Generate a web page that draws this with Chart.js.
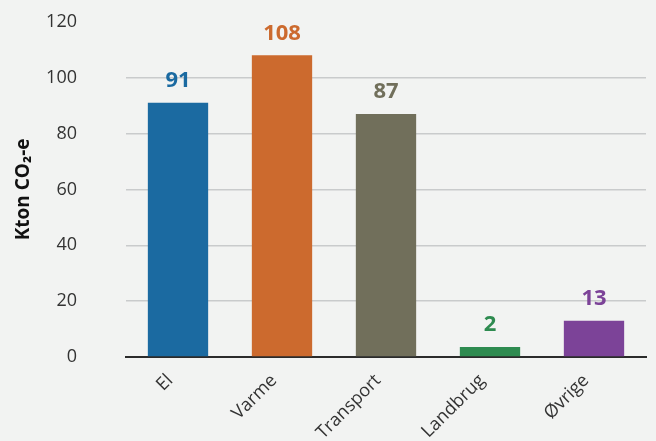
<!DOCTYPE html>
<html>
<head>
<meta charset="utf-8">
<script src="https://cdn.jsdelivr.net/npm/chart.js@4"></script>
<style>
  html, body { margin: 0; padding: 0; background: #f2f3f2; }
  #wrap { width: 656px; height: 441px; }
</style>
</head>
<body>
<div id="wrap"><canvas id="chart"></canvas></div>
<script>
const categories = ['El', 'Varme', 'Transport', 'Landbrug', 'Øvrige'];
const emissions = [91, 108, 87, 2, 13];
const barColors = ['#1b6aa1', '#cc6a2e', '#716f5b', '#2e8b50', '#7c4398'];
const yTicks = [0, 20, 40, 60, 80, 100, 120];

// value labels above each bar, same colour as the bar
const valueLabels = {
  id: 'valueLabels',
  afterDatasetsDraw(chart) {
    const ctx = chart.ctx;
    const meta = chart.getDatasetMeta(0);
    ctx.save();
    ctx.font = 'bold 22px "Open Sans", sans-serif';
    ctx.textAlign = 'center';
    ctx.textBaseline = 'bottom';
    meta.data.forEach((bar, i) => {
      ctx.fillStyle = barColors[i];
      ctx.fillText(String(emissions[i]), bar.x, bar.y - 11);
    });
    ctx.restore();
  },
};

const ctx = document.getElementById('chart').getContext('2d');
new Chart(ctx, {
  type: 'bar',
  data: {
    labels: categories,
    datasets: [{
      data: emissions,
      backgroundColor: barColors,
      barPercentage: 0.58,
      categoryPercentage: 1,
      minBarLength: 10,
    }],
  },
  options: {
    responsive: true,
    maintainAspectRatio: false,
    animation: false,
    layout: { padding: { top: 0, right: 10 } },
    plugins: { legend: { display: false }, tooltip: { enabled: false } },
    scales: {
      x: {
        grid: { display: false, drawTicks: false },
        border: { display: true, color: '#2b2b2b', width: 2 },
        ticks: {
          color: '#333',
          font: { family: '"Open Sans", sans-serif', size: 18 },
          maxRotation: 45,
          minRotation: 45,
          padding: 13,
          labelOffset: -8,
        },
        afterFit: (scale) => { scale.height = 84; },
      },
      y: {
        min: 0,
        max: 120,
        afterBuildTicks: (scale) => { scale.ticks = yTicks.map((v) => ({ value: v })); },
        grid: {
          drawTicks: true,
          tickLength: 38,
          tickColor: 'rgba(0,0,0,0)',
          color: (c) => (c.tick && c.tick.value === 120 ? 'rgba(0,0,0,0)' : '#c9cbcc'),
          lineWidth: 1.5,
        },
        border: { display: false },
        ticks: {
          color: '#333',
          font: { family: '"Open Sans", sans-serif', size: 18 },
          padding: 11,
        },
        title: {
          display: true,
          text: 'Kton CO₂-e',
          color: '#111',
          font: { family: '"Open Sans", sans-serif', size: 19, weight: 'bold' },
          padding: { top: 12, bottom: 0 },
        },
        afterFit: (scale) => { scale.width = 126; },
      },
    },
  },
  plugins: [valueLabels],
});
</script>
</body>
</html>
